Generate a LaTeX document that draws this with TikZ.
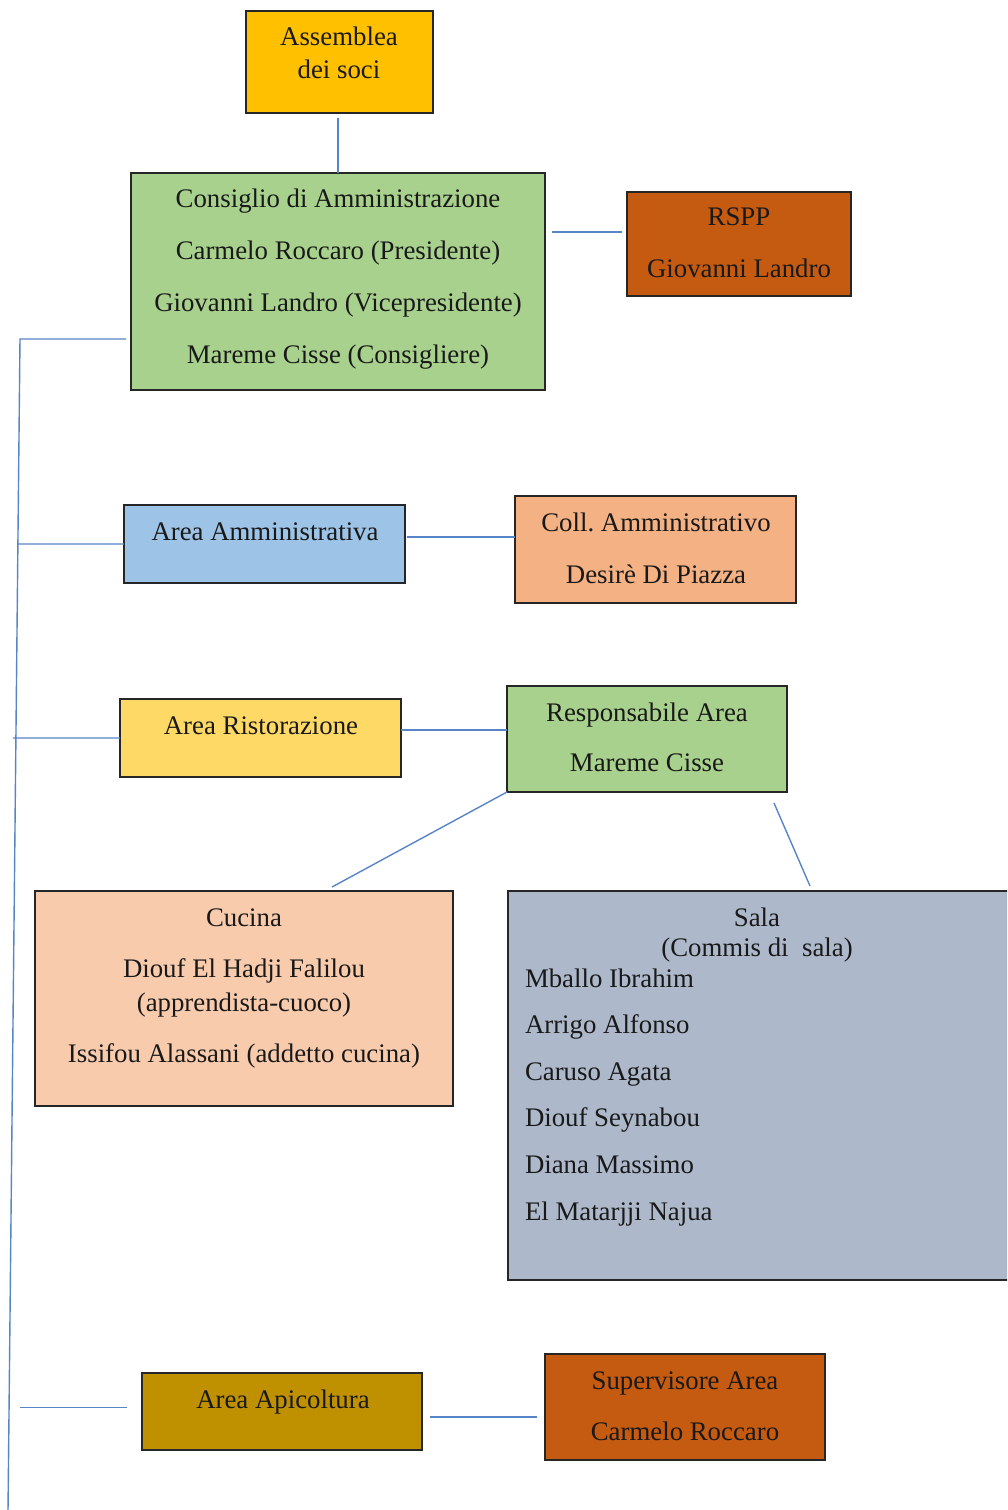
\documentclass[tikz,border=0pt]{standalone}
\usepackage{fontspec}
\setmainfont{Liberation Serif}
\usetikzlibrary{calc}
\definecolor{cAss}{HTML}{FFC000}
\definecolor{cGreen}{HTML}{A9D18E}
\definecolor{cRust}{HTML}{C55A11}
\definecolor{cBlue}{HTML}{9DC3E6}
\definecolor{cColl}{HTML}{F4B183}
\definecolor{cRis}{HTML}{FFD966}
\definecolor{cCuc}{HTML}{F8CBAD}
\definecolor{cSala}{HTML}{ADB9CA}
\definecolor{cApi}{HTML}{BF9000}
\definecolor{lineblue}{RGB}{88,132,200}
\frenchspacing
\begin{document}
\begin{tikzpicture}[x=1pt,y=-1pt,
  box/.style={draw=black!85, line width=1.5pt, inner sep=0pt, outer sep=0pt, anchor=north west},
  conn/.style={draw=lineblue, line width=1.4pt},
  txt/.style={inner sep=0pt, outer sep=0pt, anchor=base, align=center, text=black!90},
]
\useasboundingbox (0,0) rectangle (1007,1510);
\clip (0,0) rectangle (1007,1510);

% boxes
\node[box, fill=cAss,   minimum width=187pt, minimum height=102pt] (ass) at (246,11) {};
\node[box, fill=cGreen, minimum width=414pt, minimum height=217pt] (cda) at (131,173) {};
\node[box, fill=cRust,  minimum width=224pt, minimum height=104pt] (rspp) at (627,192) {};
\node[box, fill=cBlue,  minimum width=281pt, minimum height=78pt] (aa) at (124,505) {};
\node[box, fill=cColl,  minimum width=281pt, minimum height=107pt] (coll) at (515,496) {};
\node[box, fill=cRis,   minimum width=281pt, minimum height=78pt] (ris) at (120,699) {};
\node[box, fill=cGreen, minimum width=280pt, minimum height=106pt] (resp) at (507,686) {};
\node[box, fill=cCuc,   minimum width=418pt, minimum height=215pt] (cuc) at (35,891) {};
\node[box, fill=cSala,  minimum width=510pt, minimum height=389pt] (sala) at (508,891) {};
\node[box, fill=cApi,   minimum width=280pt, minimum height=77pt] (api) at (142,1373) {};
\node[box, fill=cRust,  minimum width=280pt, minimum height=106pt] (sup) at (545,1354) {};

% texts (base anchor = baseline of the last line)
\node[txt, font=\fontsize{26.8}{33}\selectfont] (ass-t) at (339,78) {Assemblea\\dei soci};
\node[txt, font=\fontsize{26.8}{52}\selectfont] (cda-t) at (338,363) {Consiglio di Amministrazione\\Carmelo Roccaro (Presidente)\\Giovanni Landro (Vicepresidente)\\Mareme Cisse (Consigliere)};
\node[txt, font=\fontsize{26.8}{52}\selectfont] (rspp-t) at (739,277) {RSPP\\Giovanni Landro};
\node[txt, font=\fontsize{26.8}{52}\selectfont] (aa-t) at (265,540) {Area Amministrativa};
\node[txt, font=\fontsize{26.8}{52}\selectfont] (coll-t) at (656,583) {Coll. Amministrativo\\Desirè Di Piazza};
\node[txt, font=\fontsize{26.8}{52}\selectfont] (ris-t) at (261,734) {Area Ristorazione};
\node[txt, font=\fontsize{26.8}{50}\selectfont] (resp-t) at (647,771) {Responsabile Area\\Mareme Cisse};
\node[txt, font=\fontsize{26.8}{34}\selectfont] (cuc-t) at (244,1062) {Cucina\\[17pt]Diouf El Hadji Falilou\\(apprendista-cuoco)\\[17pt]Issifou Alassani (addetto cucina)};
\node[txt, font=\fontsize{26.8}{30}\selectfont] (sala-t) at (757,956) {Sala\\(Commis di\ \ sala)};
\node[txt, anchor=base west, align=left, font=\fontsize{26.8}{46.6}\selectfont] (sala-n) at (525,1220) {Mballo Ibrahim\\Arrigo Alfonso\\Caruso Agata\\Diouf Seynabou\\Diana Massimo\\El Matarjji Najua};
\node[txt, font=\fontsize{26.8}{52}\selectfont] (api-t) at (283,1408) {Area Apicoltura};
\node[txt, font=\fontsize{26.8}{51}\selectfont] (sup-t) at (685,1440) {Supervisore Area\\Carmelo Roccaro};

% connectors
\coordinate (bt) at (20,339);
\coordinate (bb) at (8,1512);
\draw[conn] ([yshift=-5pt]ass.south -| cda.north) -- (cda.north);
\draw[conn] ($(cda.east |- rspp.west)+(7,-12)$) -- ($(rspp.west)+(-5,-12)$);
\draw[conn] (bb) -- (bt) -- ($(cda.west |- bt)+(-5,0)$);
\draw[conn] (aa.west) -- (intersection of bt--bb and aa.west--aa.east);
\draw[conn] ($(aa.east)+(2,-7)$) -- ($(coll.west |- aa.east)+(0,-7)$);
\draw[conn] (ris.west) -- ($(intersection of bt--bb and ris.west--ris.east)+(-3,0)$);
\draw[conn] ($(ris.east)+(0,-8)$) -- ($(resp.west |- ris.east)+(0,-8)$);
\draw[conn] (resp.south west) -- ($(cuc.north)+(88,-4)$);
\draw[conn] ($(resp.south east)+(-13,11)$) -- ($(sala.north west)+(302,-5)$);
\draw[conn] ($(api.west)+(-15,-4)$) -- ($(api.west)+(-122,-4)$);
\draw[conn] ($(api.east)+(8,5.5)$) -- ($(sup.west |- api.east)+(-8,5.5)$);
\end{tikzpicture}
\end{document}
